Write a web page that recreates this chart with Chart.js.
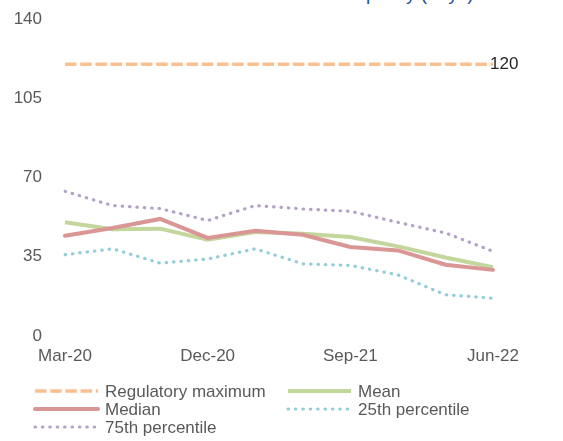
<!DOCTYPE html>
<html>
<head>
<meta charset="utf-8">
<script src="https://cdn.jsdelivr.net/npm/chart.js@4"></script>
<style>
  html, body { margin: 0; padding: 0; background: #ffffff; overflow: hidden; }
  #wrap { position: relative; width: 563px; height: 441px; }
  #title { position: absolute; left: 53px; top: -16px; font: 19px "Liberation Sans", Arial, sans-serif; line-height: 20px; color: #1F4E9E; white-space: nowrap; }
  canvas { position: absolute; left: 0; top: 0; }
</style>
</head>
<body>
<div id="wrap">
  <div id="title">Time taken to connect to electrical capacity (days)</div>
  <canvas id="c" width="563" height="441"></canvas>
</div>
<script>
const categories = ['Mar-20','Jun-20','Sep-20','Dec-20','Mar-21','Jun-21','Sep-21','Dec-21','Mar-22','Jun-22'];
const regulatoryMaximum = [120, 120, 120, 120, 120, 120, 120, 120, 120, 120];
const meanValues = [50.2, 47.2, 47.4, 42.5, 45.9, 45.2, 43.7, 39.6, 34.7, 30.4];
const medianValues = [44.3, 47.7, 51.7, 43.3, 46.5, 44.7, 39.3, 37.8, 31.5, 29.2];
const p25Values = [35.9, 38.5, 32.2, 34.0, 38.5, 31.9, 31.2, 27.0, 18.2, 16.7];
const p75Values = [63.9, 57.6, 56.3, 51.0, 57.6, 56.1, 55.1, 50.2, 45.5, 37.4];
const yTicks = [0, 35, 70, 105, 140];

const FONT = '"Liberation Sans", Arial, sans-serif';

const endLabelPlugin = {
  id: 'endLabel',
  afterDatasetsDraw(chart) {
    const meta = chart.getDatasetMeta(0);
    const pt = meta.data[meta.data.length - 1];
    const ctx = chart.ctx;
    ctx.save();
    ctx.font = '17px ' + FONT;
    ctx.fillStyle = '#262626';
    ctx.textAlign = 'left';
    ctx.textBaseline = 'middle';
    ctx.fillText(String(regulatoryMaximum[regulatoryMaximum.length - 1]), pt.x - 3, pt.y);
    ctx.restore();
  }
};

const legendPlugin = {
  id: 'customLegend',
  afterDraw(chart) {
    const ctx = chart.ctx;
    const base = chart.chartArea.bottom;
    const colX = [35, 288];
    const lineLen = 63;
    chart.data.datasets.forEach((ds, i) => {
      const col = i % 2, row = Math.floor(i / 2);
      const x = colX[col];
      const y = base + 55 + row * 18;
      ctx.save();
      ctx.strokeStyle = ds.borderColor;
      ctx.lineWidth = ds.borderWidth;
      ctx.lineCap = ds.borderCapStyle || 'butt';
      ctx.setLineDash(ds.borderDash || []);
      ctx.beginPath();
      ctx.moveTo(x, y);
      ctx.lineTo(x + lineLen, y);
      ctx.stroke();
      ctx.setLineDash([]);
      ctx.font = '17px ' + FONT;
      ctx.fillStyle = '#595959';
      ctx.textAlign = 'left';
      ctx.textBaseline = 'middle';
      ctx.fillText(ds.label, x + lineLen + 7, y + 1);
      ctx.restore();
    });
  }
};

const common = { pointRadius: 0, pointHoverRadius: 0, tension: 0, fill: false };

new Chart(document.getElementById('c'), {
  type: 'line',
  data: {
    labels: categories,
    datasets: [
      Object.assign({ label: 'Regulatory maximum', data: regulatoryMaximum, borderColor: '#FAC090', borderWidth: 3.5, borderDash: [11.5, 3.7], borderCapStyle: 'butt' }, common),
      Object.assign({ label: 'Mean', data: meanValues, borderColor: '#C3D69B', borderWidth: 4, borderCapStyle: 'butt' }, common),
      Object.assign({ label: 'Median', data: medianValues, borderColor: '#D99694', borderWidth: 4, borderCapStyle: 'round', order: -1 }, common),
      Object.assign({ label: '25th percentile', data: p25Values, borderColor: '#93CDDD', borderWidth: 3.2, borderDash: [0.5, 6.9], borderCapStyle: 'round' }, common),
      Object.assign({ label: '75th percentile', data: p75Values, borderColor: '#B3A2C7', borderWidth: 3.2, borderDash: [0.5, 6.9], borderCapStyle: 'round' }, common)
    ]
  },
  options: {
    responsive: false,
    animation: false,
    events: [],
    layout: { padding: { left: 10, right: 70, top: 19, bottom: 65 } },
    plugins: { legend: { display: false }, tooltip: { enabled: false }, title: { display: false } },
    scales: {
      x: {
        type: 'category',
        offset: false,
        grid: { display: false },
        border: { display: false },
        ticks: {
          autoSkip: false,
          maxRotation: 0,
          minRotation: 0,
          padding: 2,
          color: '#595959',
          font: { family: FONT, size: 17 },
          callback: function (v, i) { return i % 3 === 0 ? categories[i] : ''; }
        },
        afterFit(scale) { scale.height = 40; scale.paddingLeft = 0; scale.paddingRight = 0; }
      },
      y: {
        min: 0,
        max: 140,
        grid: { display: false },
        border: { display: false },
        afterBuildTicks(scale) { scale.ticks = yTicks.map(v => ({ value: v })); },
        ticks: {
          padding: 15,
          color: '#595959',
          font: { family: FONT, size: 17 }
        },
        afterFit(scale) { scale.width = 55; scale.paddingTop = 0; scale.paddingBottom = 0; }
      }
    }
  },
  plugins: [endLabelPlugin, legendPlugin]
});
</script>
</body>
</html>
